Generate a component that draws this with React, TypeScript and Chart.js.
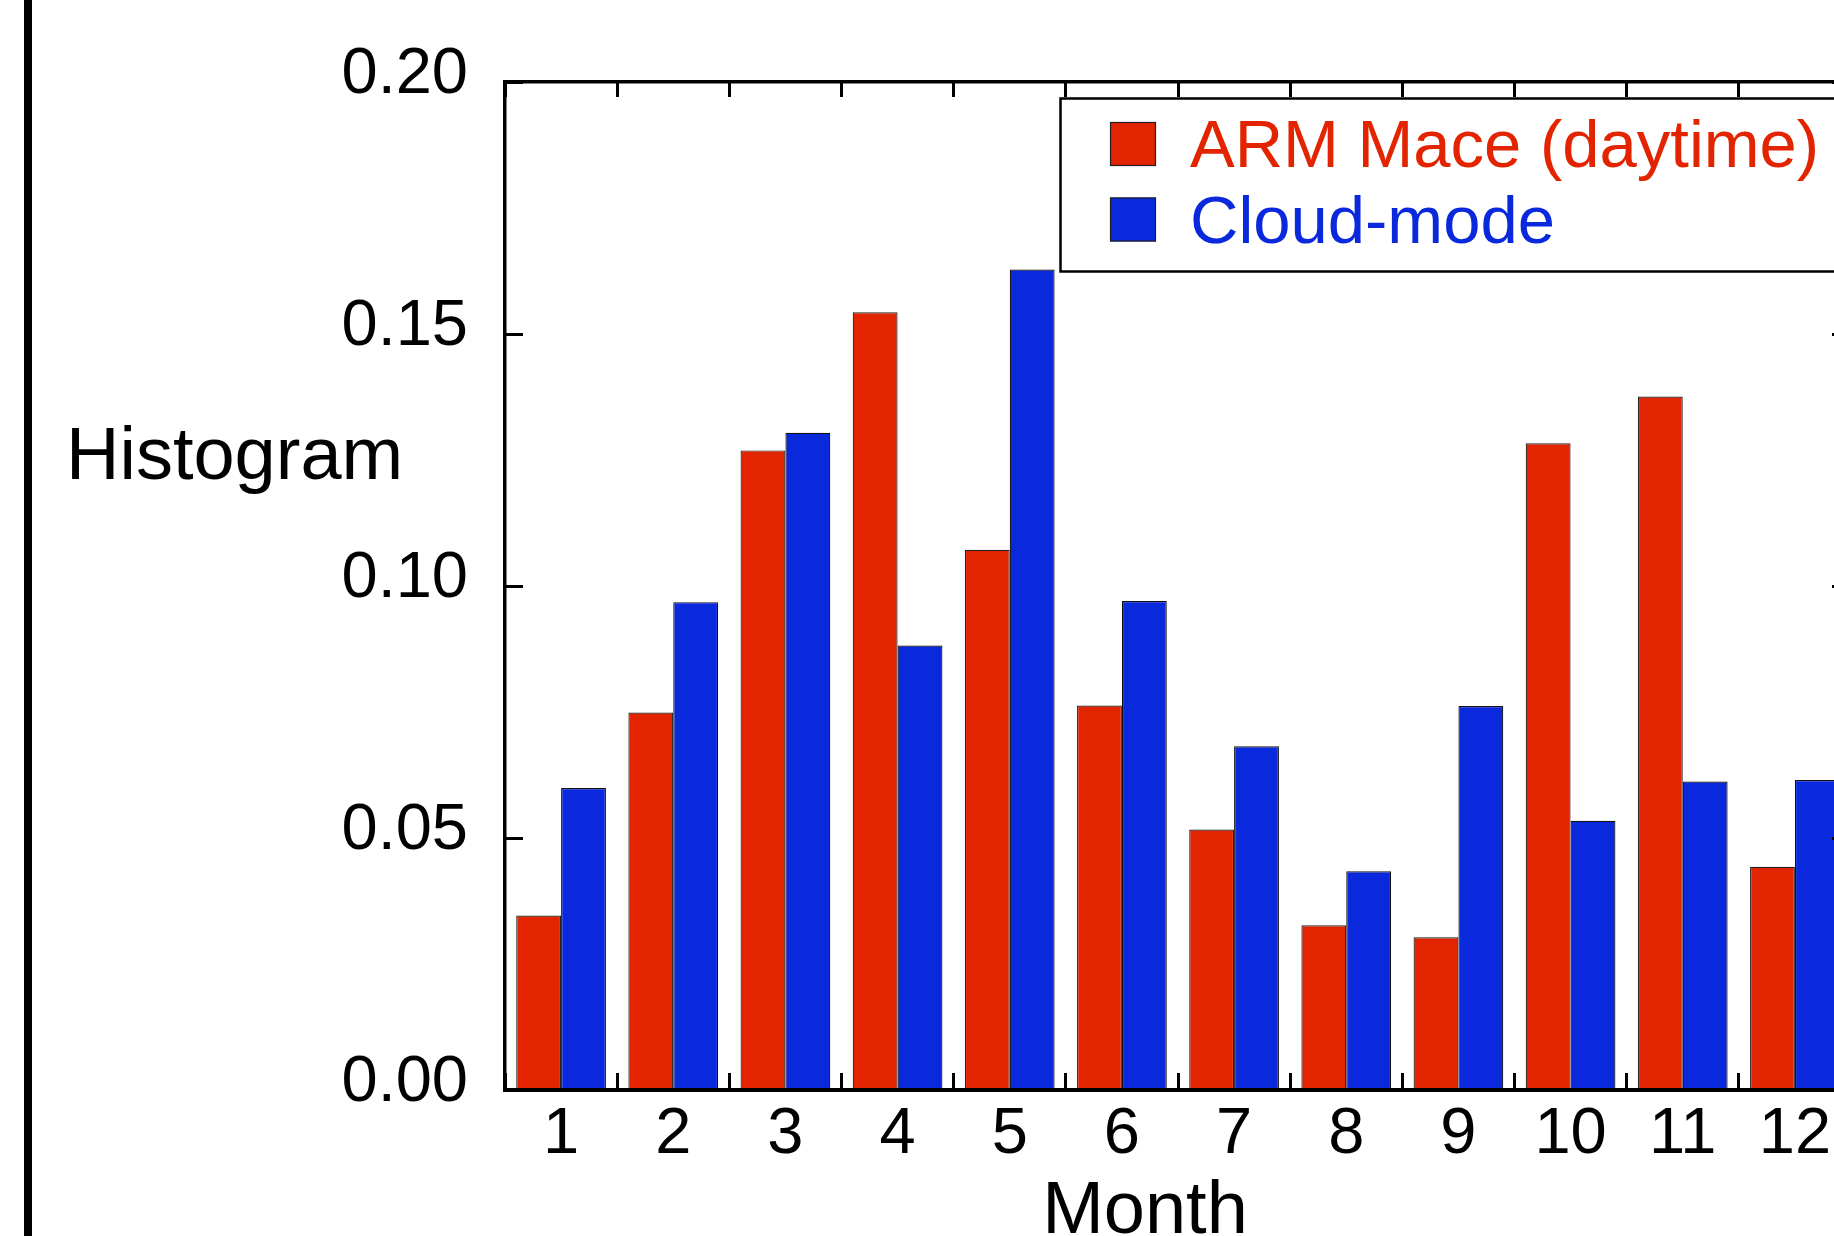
import React, { useEffect, useRef } from 'react';
import { Chart, registerables } from 'chart.js';

Chart.register(...registerables);

// ---- data ----
const months = ['1', '2', '3', '4', '5', '6', '7', '8', '9', '10', '11', '12'];
const armMace = [0.0346, 0.0749, 0.1269, 0.1543, 0.1072, 0.0763, 0.0517, 0.0327, 0.0303, 0.1283, 0.1376, 0.0443];
const cloudMode = [0.0599, 0.0968, 0.1304, 0.0882, 0.1628, 0.0970, 0.0682, 0.0434, 0.0762, 0.0534, 0.0612, 0.0615];
const seriesLabels = ['ARM Mace (daytime)', 'Cloud-mode'];
const seriesColors = ['#E32400', '#0A28DC'];
const yMin = 0;
const yMax = 0.2;
const yStep = 0.05;
const xTitle = 'Month';
const yTitle = 'Histogram';

// ---- layout ----
const CANVAS_W = 1900;
const CANVAS_H = 1236;
const AREA_LEFT = 505;
const AREA_TOP = 82;
const AREA_BOTTOM = 1090;
const AREA_RIGHT = 1851;
const FONT = '"Liberation Sans", Arial, Helvetica, sans-serif';

const zeroPad = (s: any) => {
  s.paddingTop = 0;
  s.paddingBottom = 0;
  s.paddingLeft = 0;
  s.paddingRight = 0;
};

const decorPlugin = {
  id: 'decor',
  beforeDraw(chart: any) {
    const ctx = chart.ctx;
    ctx.save();
    ctx.fillStyle = '#ffffff';
    ctx.fillRect(0, 0, chart.width, chart.height);
    ctx.fillStyle = '#000000';
    ctx.fillRect(24, 0, 8, chart.height);
    ctx.restore();
  },
  afterDraw(chart: any) {
    const ctx = chart.ctx;
    ctx.save();
    ctx.fillStyle = '#000000';
    ctx.font = `74px ${FONT}`;
    ctx.textBaseline = 'alphabetic';
    ctx.textAlign = 'left';
    ctx.fillText(yTitle, 66, 479);
    ctx.textAlign = 'center';
    ctx.fillText(xTitle, 1145, 1233);

    // legend box
    const bx = 1060.5;
    const by = 98.5;
    const bw = chart.width - bx + 20;
    const bh = 173;
    ctx.fillStyle = '#ffffff';
    ctx.fillRect(bx, by, bw, bh);
    ctx.lineWidth = 2.5;
    ctx.strokeStyle = '#000000';
    ctx.strokeRect(bx, by, bw, bh);
    chart.data.datasets.forEach((ds: any, i: number) => {
      const sy = 122 + i * 75.5;
      ctx.fillStyle = ds.backgroundColor;
      ctx.fillRect(1110, sy, 46, 44);
      ctx.lineWidth = 1.2;
      ctx.strokeStyle = '#222222';
      ctx.strokeRect(1110.5, sy + 0.5, 45, 43);
      ctx.fillStyle = ds.backgroundColor;
      ctx.font = `67px ${FONT}`;
      ctx.textAlign = 'left';
      ctx.textBaseline = 'alphabetic';
      ctx.fillText(ds.label, 1190, 167 + i * 76);
    });
    ctx.restore();
  },
};

export default function App() {
  const canvasRef = useRef<HTMLCanvasElement | null>(null);

  useEffect(() => {
    const canvas = canvasRef.current;
    if (!canvas) return;
    const tickFont = { family: FONT, size: 65 };
    const chart = new Chart(canvas, {
      type: 'bar',
      data: {
        labels: months,
        datasets: [
          {
            label: seriesLabels[0],
            data: armMace,
            backgroundColor: seriesColors[0],
            borderColor: '#222222',
            borderWidth: 1.2,
            categoryPercentage: 0.8,
            barPercentage: 1.0,
            xAxisID: 'x',
            yAxisID: 'y',
          },
          {
            label: seriesLabels[1],
            data: cloudMode,
            backgroundColor: seriesColors[1],
            borderColor: '#111111',
            borderWidth: 1.2,
            categoryPercentage: 0.8,
            barPercentage: 1.0,
            xAxisID: 'x',
            yAxisID: 'y',
          },
        ],
      },
      options: {
        responsive: false,
        maintainAspectRatio: false,
        animation: false,
        devicePixelRatio: 1,
        layout: { padding: 0 },
        plugins: {
          legend: { display: false },
          tooltip: { enabled: false },
        },
        scales: {
          x: {
            type: 'category',
            position: 'bottom',
            offset: true,
            grid: {
              display: true,
              offset: true,
              drawOnChartArea: false,
              drawTicks: true,
              tickLength: -17,
              tickWidth: 3,
              tickColor: '#000000',
              z: 1,
            },
            border: { display: true, color: '#000000', width: 4, z: 1 },
            ticks: {
              color: '#000000',
              font: tickFont,
              padding: 23,
              maxRotation: 0,
              autoSkip: false,
            },
            afterFit: (s: any) => {
              s.height = CANVAS_H - AREA_BOTTOM;
              zeroPad(s);
            },
          },
          x2: {
            type: 'category',
            position: 'top',
            offset: true,
            grid: {
              display: true,
              offset: true,
              drawOnChartArea: false,
              drawTicks: true,
              tickLength: -15,
              tickWidth: 3,
              tickColor: '#000000',
              z: 1,
            },
            border: { display: true, color: '#000000', width: 3.5, z: 1 },
            ticks: { display: false },
            afterFit: (s: any) => {
              s.height = AREA_TOP;
              zeroPad(s);
            },
          },
          y: {
            type: 'linear',
            position: 'left',
            min: yMin,
            max: yMax,
            grid: {
              display: true,
              drawOnChartArea: false,
              drawTicks: true,
              tickLength: -18,
              tickWidth: 3,
              tickColor: '#000000',
              z: 1,
            },
            border: { display: true, color: '#000000', width: 3.5, z: 1 },
            ticks: {
              stepSize: yStep,
              color: '#000000',
              font: tickFont,
              padding: 55,
              labelOffset: -7,
              callback: (v: any) => Number(v).toFixed(2),
            },
            afterFit: (s: any) => {
              s.width = AREA_LEFT;
              zeroPad(s);
            },
          },
          y2: {
            type: 'linear',
            position: 'right',
            min: yMin,
            max: yMax,
            grid: {
              display: true,
              drawOnChartArea: false,
              drawTicks: true,
              tickLength: -19,
              tickWidth: 3,
              tickColor: '#000000',
              z: 1,
            },
            border: { display: true, color: '#000000', width: 3.5, z: 1 },
            ticks: { display: false, stepSize: yStep },
            afterFit: (s: any) => {
              s.width = CANVAS_W - AREA_RIGHT;
              zeroPad(s);
            },
          },
        },
      } as any,
      plugins: [decorPlugin],
    });
    return () => {
      chart.destroy();
    };
  }, []);

  return (
    <div
      style={{
        position: 'fixed',
        left: 0,
        top: 0,
        width: 1834,
        height: 1236,
        overflow: 'hidden',
        background: '#ffffff',
      }}
    >
      <canvas
        ref={canvasRef}
        width={CANVAS_W}
        height={CANVAS_H}
        style={{ display: 'block', width: CANVAS_W, height: CANVAS_H }}
      />
    </div>
  );
}
